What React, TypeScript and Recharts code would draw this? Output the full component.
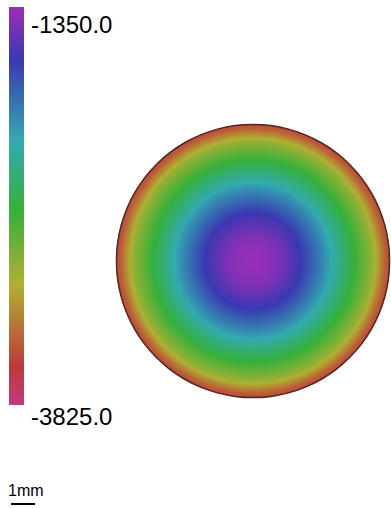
import { BarChart, Bar, XAxis, YAxis, PieChart, Pie, Cell } from "recharts";

// colour scale, top to bottom (height values)
const scaleValues = [-1350, -1680, -2180, -2610, -3080, -3580, -3825];
const scaleColors = ["#9a2fb6", "#3a38b2", "#32aab0", "#36b03a", "#b0b032", "#c03a3a", "#c03a7e"];
const scaleTicks = [-1350, -3825];
const tickDrop = [26, 20];

// radial height profile of the surface
const profileRadius = [0, 1, 2, 3, 4, 5, 5.5, 5.7]; // mm
const profileHeight = [-1350, -1432, -1680, -2068, -2513, -2983, -3420, -3530];

const scaleBarMm = 1;
const circleRadiusPx = 137;

const hexToRgb = (h: string) => [1, 3, 5].map((i) => parseInt(h.slice(i, i + 2), 16));

const colorAt = (v: number) => {
  for (let i = 0; i < scaleValues.length - 1; i++) {
    const a = scaleValues[i];
    const b = scaleValues[i + 1];
    if (v <= a && v >= b) {
      const t = (a - v) / (a - b);
      const ca = hexToRgb(scaleColors[i]);
      const cb = hexToRgb(scaleColors[i + 1]);
      const c = ca.map((x, k) => Math.round(x + (cb[k] - x) * t));
      return `rgb(${c[0]},${c[1]},${c[2]})`;
    }
  }
  return v > scaleValues[0] ? scaleColors[0] : scaleColors[scaleColors.length - 1];
};

const rMax = profileRadius[profileRadius.length - 1];
const pxPerMm = circleRadiusPx / rMax;

// gradient stops: profile points plus the radii where the profile crosses each colour stop
const surfaceStops = (() => {
  const stops = profileRadius.map((r, i) => ({ offset: r / rMax, color: colorAt(profileHeight[i]) }));
  scaleValues.forEach((v) => {
    for (let i = 0; i < profileHeight.length - 1; i++) {
      const a = profileHeight[i];
      const b = profileHeight[i + 1];
      if (v < a && v > b) {
        const r = profileRadius[i] + ((a - v) / (a - b)) * (profileRadius[i + 1] - profileRadius[i]);
        stops.push({ offset: r / rMax, color: colorAt(v) });
      }
    }
  });
  return stops.sort((p, q) => p.offset - q.offset);
})();

const scaleTop = scaleValues[0];
const scaleBottom = scaleValues[scaleValues.length - 1];
const scaleData = [{ name: "scale", range: [scaleBottom, scaleTop] }];
const surfaceData = [{ name: "surface", value: 1 }];

const ScaleTick = (props: any) => {
  const { x, y, payload, index } = props;
  return (
    <text x={x} y={y + tickDrop[index]} fontSize={24} fill="#000" fontFamily="'Liberation Sans', Arial, sans-serif">
      {payload.value.toFixed(1)}
    </text>
  );
};

export default function App() {
  return (
    <div style={{ position: "absolute", left: 0, top: 0, width: 391, height: 508, background: "#fff" }}>
      <div style={{ position: "absolute", left: 0, top: 0 }}>
        <BarChart width={130} height={440} data={scaleData} margin={{ top: 7, right: 0, bottom: 35, left: 9 }} barCategoryGap={0}>
          <defs>
            <linearGradient id="scaleFill" x1="0" y1="0" x2="0" y2="1">
              {scaleValues.map((v, i) => (
                <stop key={i} offset={(scaleTop - v) / (scaleTop - scaleBottom)} stopColor={scaleColors[i]} />
              ))}
            </linearGradient>
          </defs>
          <XAxis dataKey="name" hide />
          <YAxis
            orientation="right"
            domain={[scaleBottom, scaleTop]}
            ticks={scaleTicks}
            width={106}
            axisLine={false}
            tickLine={false}
            tickSize={0}
            tickMargin={7}
            tick={<ScaleTick />}
            interval={0}
          />
          <Bar dataKey="range" fill="url(#scaleFill)" isAnimationActive={false} />
        </BarChart>
      </div>
      <div style={{ position: "absolute", left: 110, top: 118 }}>
        <PieChart width={288} height={288} margin={{ top: 0, right: 0, bottom: 0, left: 0 }}>
          <defs>
            <radialGradient id="surfaceFill" cx="50%" cy="50%" r="50%">
              {surfaceStops.map((s, i) => (
                <stop key={i} offset={s.offset} stopColor={s.color} />
              ))}
            </radialGradient>
          </defs>
          <Pie
            data={surfaceData}
            dataKey="value"
            cx={143}
            cy={143}
            innerRadius={0}
            outerRadius={circleRadiusPx}
            startAngle={90}
            endAngle={-270}
            stroke="none"
            isAnimationActive={false}
          >
            <Cell fill="url(#surfaceFill)" />
          </Pie>
          {/* rim */}
          <Pie
            data={surfaceData}
            dataKey="value"
            cx={143}
            cy={143}
            innerRadius={circleRadiusPx - 1.2}
            outerRadius={circleRadiusPx + 0.3}
            startAngle={90}
            endAngle={-270}
            stroke="none"
            isAnimationActive={false}
          >
            <Cell fill="#4e2a22" />
          </Pie>
        </PieChart>
      </div>
      <svg style={{ position: "absolute", left: 0, top: 470 }} width={80} height={38}>
        <text x={8} y={26} fontSize={16} fill="#000" fontFamily="'Liberation Sans', Arial, sans-serif">
          {scaleBarMm}mm
        </text>
        <rect x={11} y={33} width={scaleBarMm * pxPerMm} height={2} fill="#000" />
      </svg>
    </div>
  );
}
